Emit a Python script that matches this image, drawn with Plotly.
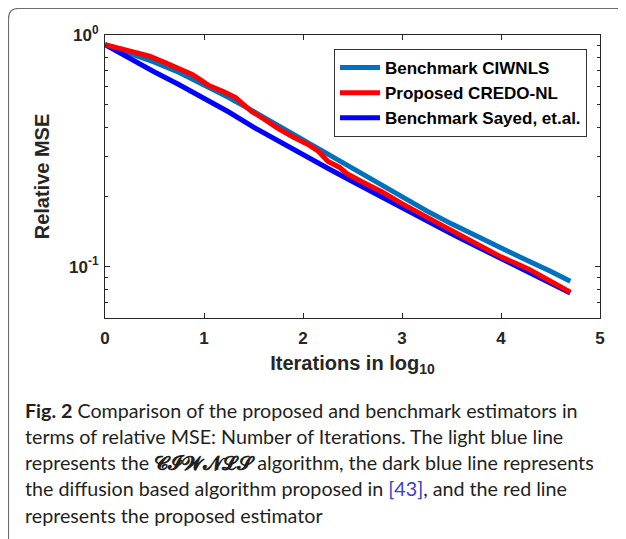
import plotly.graph_objects as go

# ---- data ----
iter_log10_ciwnls = [0, 0.25, 0.5, 0.75, 1.0, 1.25, 1.5, 1.75, 2.0, 2.25, 2.5, 2.75, 3.0, 3.25, 3.5, 3.75, 4.0, 4.25, 4.5, 4.7]
mse_ciwnls = [0.908, 0.836, 0.764, 0.689, 0.610, 0.537, 0.468, 0.406, 0.351, 0.304, 0.264, 0.229, 0.199, 0.174, 0.153, 0.1355, 0.120, 0.107, 0.0955, 0.0865]

iter_log10_sayed = [0, 0.3, 0.5, 0.75, 1.0, 1.25, 1.5, 1.75, 2.0, 2.25, 2.5, 2.75, 3.0, 3.25, 3.5, 3.75, 4.0, 4.25, 4.5, 4.7]
mse_sayed = [0.908, 0.767, 0.692, 0.610, 0.535, 0.465, 0.400, 0.348, 0.304, 0.266, 0.233, 0.204, 0.1786, 0.1567, 0.1387, 0.1225, 0.1084, 0.0959, 0.0849, 0.0769]

iter_log10_credo = [0, 0.15, 0.3, 0.45, 0.6, 0.75, 0.88, 0.95, 1.05, 1.2, 1.32, 1.4, 1.48, 1.6, 1.75, 1.9, 2.05, 2.15, 2.25, 2.37,
                    2.45, 2.6, 2.8, 3.0, 3.2, 3.4, 3.6, 3.8, 4.0, 4.2, 4.3, 4.5, 4.7]
mse_credo = [0.908, 0.875, 0.847, 0.811, 0.762, 0.713, 0.676, 0.646, 0.605, 0.569, 0.537, 0.501, 0.468, 0.435, 0.394, 0.363, 0.337, 0.316, 0.285, 0.268,
             0.251, 0.232, 0.210, 0.187, 0.167, 0.151, 0.136, 0.1216, 0.1102, 0.1012, 0.0966, 0.0865, 0.0776]

series_names = ["Benchmark CIWNLS", "Proposed CREDO-NL", "Benchmark Sayed, et.al."]
x_ticks = [0, 1, 2, 3, 4, 5]
y_ticks = [0.1, 1]
y_ticktext = ["10<sup>-1</sup>", "10<sup>0</sup>"]
y_minor = [0.06, 0.07, 0.08, 0.09, 0.2, 0.3, 0.4, 0.5, 0.6, 0.7, 0.8, 0.9]

caption_lines = [
    "<b>Fig. 2</b> Comparison of the proposed and benchmark estimators in",
    "terms of relative MSE: Number of Iterations. The light blue line",
    "represents the <b>𝓒𝓘𝓦𝓝𝓛𝓢</b> algorithm, the dark blue line represents",
    "the diffusion based algorithm proposed in <span style='color:#3b3bd0'>[43]</span>, and the red line",
    "represents the proposed estimator",
]
caption_py = [410, 436.5, 462, 488.5, 515]

# ---- figure (page body has an 8px margin, so the figure is 8px smaller
#      and every reference pixel position is shifted by -8) ----
OFF = 8
W, H = 626 - OFF, 539 - OFF
L, R, T, B = 105 - OFF, 26, 35 - OFF, 221
pw, ph = W - L - R, H - T - B

def px(x):
    return (x - OFF - L) / pw

def py(y):
    return (H - B - (y - OFF)) / ph

AX = "#262626"
FONT = "Liberation Sans"

fig = go.Figure()
fig.add_trace(go.Scatter(x=iter_log10_ciwnls, y=mse_ciwnls, mode="lines", name=series_names[0],
                         line=dict(color="#0072BD", width=5), legendrank=1))
fig.add_trace(go.Scatter(x=iter_log10_sayed, y=mse_sayed, mode="lines", name=series_names[2],
                         line=dict(color="#0000FF", width=5), legendrank=3))
fig.add_trace(go.Scatter(x=iter_log10_credo, y=mse_credo, mode="lines", name=series_names[1],
                         line=dict(color="#FF0000", width=5), legendrank=2))

fig.update_layout(
    width=W, height=H, autosize=False,
    margin=dict(l=L, r=R, t=T, b=B),
    paper_bgcolor="white", plot_bgcolor="white",
    font=dict(family=FONT, color="black"),
    showlegend=True,
    legend=dict(x=px(587), y=py(49), xanchor="right", yanchor="top",
                bgcolor="white", bordercolor="#333333", borderwidth=1,
                font=dict(family=FONT, size=17, weight="bold", color="black"),
                tracegroupgap=0, itemwidth=40),
    xaxis=dict(range=[0, 5], tickvals=x_ticks, ticks="inside", ticklen=5, tickcolor=AX,
               showline=True, linecolor=AX, linewidth=1, mirror="ticks",
               showgrid=False, zeroline=False, ticklabelstandoff=5,
               tickfont=dict(family=FONT, size=17, weight="bold", color=AX),
               title=dict(text="Iterations in log<sub>10</sub>", standoff=8,
                          font=dict(family=FONT, size=20, weight="bold", color=AX))),
    yaxis=dict(type="log", range=[-1.2218, 0], tickvals=y_ticks, ticktext=y_ticktext,
               ticks="inside", ticklen=5, tickcolor=AX,
               showline=True, linecolor=AX, linewidth=1, mirror="ticks",
               showgrid=False, zeroline=False, ticklabelstandoff=2,
               minor=dict(tickvals=y_minor, ticks="inside", ticklen=3, tickcolor=AX, showgrid=False),
               tickfont=dict(family=FONT, size=17, weight="bold", color=AX),
               title=dict(text="Relative MSE", standoff=14,
                          font=dict(family=FONT, size=20, weight="bold", color=AX))),
)

# rounded frame around the figure (top-left corner visible)
r = 10
x0, y0 = px(8.5), py(8.5)
frame = (f"M {x0},{py(600)} L {x0},{py(8.5 + r)} "
         f"Q {x0},{y0} {px(8.5 + r)},{y0} L {px(700)},{y0}")
fig.add_shape(type="path", path=frame, xref="paper", yref="paper",
              line=dict(color="#6e6e6e", width=1.2), layer="below")

for txt, yy in zip(caption_lines, caption_py):
    fig.add_annotation(text=txt, xref="paper", yref="paper", x=px(23), y=py(yy),
                       xanchor="left", yanchor="middle", showarrow=False,
                       font=dict(family="Lato", size=19.7, color="#231f20"))

fig.write_html("out.html")
